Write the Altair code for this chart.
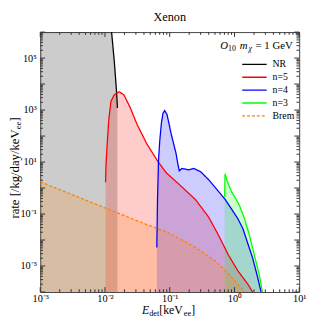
import altair as alt
import pandas as pd

# ---------------- data ----------------
SERIES = ["NR", "n=5", "n=4", "n=3", "Brem"]
COLORS = ["#000000", "#ff0000", "#0000ff", "#00ff00", "#ff8000"]
DASHES = [[1, 0], [1, 0], [1, 0], [1, 0], [3, 2]]

nr_x = [0.001, 0.0124, 0.01265, 0.0139, 0.01503, 0.01557]
nr_y = [1e9, 3e6, 1.0e6, 7.9e4, 5.9e3, 1.2e3]

n5_x = [0.0102, 0.01037, 0.01074, 0.0114, 0.01234, 0.01389, 0.01652, 0.01966,
        0.0247, 0.0312, 0.0442, 0.0659, 0.0885, 0.132, 0.251, 0.399, 0.565,
        0.80, 1.13, 1.60, 1.91, 2.0]
n5_y = [1.67, 7.7, 37.6, 379, 2143, 3828, 5090, 3828,
        1199, 285, 50.5, 10.4, 3.86, 1.58, 0.357, 0.0764, 0.0156,
        2.75e-3, 6.5e-4, 2.05e-4, 1e-4, 6e-5]

n4_x = [0.0632, 0.0648, 0.0671, 0.0702, 0.0744, 0.0788, 0.0835, 0.0908, 0.1054,
        0.1253, 0.133, 0.1406, 0.1544, 0.1774, 0.197, 0.234, 0.299, 0.399,
        0.534, 0.713, 0.90, 1.13, 1.346, 1.905, 2.24, 2.58, 2.7]
n4_y = [5.2e-3, 0.372, 11.9, 67, 319, 759, 957, 678, 120,
        21.2, 8.9, 4.6, 5.7, 5.3, 5.0, 5.7, 4.3, 2.1,
        0.885, 0.372, 0.157, 0.066, 0.0278, 2.07e-3, 4.35e-4, 1e-4, 5e-5]

n3_x = [0.705, 0.715, 0.773, 0.847, 0.918, 1.01, 1.2, 1.43, 1.70, 2.02, 2.40, 2.70, 2.8]
n3_y = [0.45, 3.54, 1.82, 1.05, 0.665, 0.46, 0.209, 0.066, 0.0156, 2.75e-3, 4.9e-4, 1e-4, 5e-5]

brem_x = [0.001, 0.01037, 0.0442, 0.0885, 0.251, 0.504, 0.695, 1.01, 1.43, 1.6]
brem_y = [1.73, 0.167, 0.0393, 0.0209, 5.2e-3, 1.56e-3, 7.5e-4, 2.75e-4, 1e-4, 5e-5]

X_DECADES = [1e-3, 1e-2, 1e-1, 1.0, 10.0]
Y_DECADES = [1e-4, 1e-3, 1e-2, 1e-1, 1.0, 10.0, 1e2, 1e3, 1e4, 1e5, 1e6]
X_LABELS = [1e-3, 1e-2, 1e-1, 1.0, 10.0]
Y_LABELS = [1e-3, 1e-1, 10.0, 1e3, 1e5]
MINOR_MULT = [2, 3, 4, 5, 6, 7, 8, 9]

rows = []
for name, xs, ys in [("NR", nr_x, nr_y), ("n=5", n5_x, n5_y), ("n=4", n4_x, n4_y),
                     ("n=3", n3_x, n3_y), ("Brem", brem_x, brem_y)]:
    for a, b in zip(xs, ys):
        rows.append({"series": name, "x": a, "y": b})
df = pd.DataFrame(rows)

x_minor = [m * d for d in X_DECADES[:-1] for m in MINOR_MULT]
y_minor = [m * d for d in Y_DECADES[:-1] for m in MINOR_MULT]

# ---------------- style ----------------
W, H = 265, 266
FONT = "Liberation Serif"
FRAME = "#444444"
TICK = "#333333"

xscale = alt.Scale(type="log", domain=[1e-3, 10], nice=False)
yscale = alt.Scale(type="log", domain=[1e-4, 1e6], nice=False)

x_label_expr = ("datum.value < 0.005 ? '10⁻³' : datum.value < 0.05 ? '10⁻²' : "
                "datum.value < 0.5 ? '10⁻¹' : datum.value < 5 ? '10⁰' : '10¹'")
y_label_expr = ("datum.value < 0.005 ? '10⁻³' : datum.value < 0.5 ? '10⁻¹' : "
                "datum.value < 50 ? '10¹' : datum.value < 5000 ? '10³' : '10⁵'")

xaxis = alt.Axis(values=X_LABELS, labelExpr=x_label_expr, ticks=False, domain=False,
                 grid=False, title=None, labelFont=FONT, labelFontSize=10.5,
                 labelColor="black", labelPadding=2, labelFlush=False)
yaxis = alt.Axis(values=Y_LABELS, labelExpr=y_label_expr, ticks=False, domain=False,
                 grid=False, title=None, labelFont=FONT, labelFontSize=10.5,
                 labelColor="black", labelPadding=4)

legend = alt.Legend(orient="none", legendX=205.7, legendY=27, title=None,
                    symbolType="M-2.5,0H2.5", symbolSize=100, symbolStrokeWidth=1.4,
                    symbolOffset=7.5, labelOffset=12.5, rowPadding=2.2, padding=0,
                    labelFont=FONT, labelFontSize=10, labelColor="black")

# fill scale listed in reverse order so its (hidden) legend stays separate
areas = alt.Chart(df).mark_area(fillOpacity=0.2, clip=True).encode(
    x=alt.X("x:Q", scale=xscale, axis=xaxis),
    y=alt.Y("y:Q", scale=yscale, axis=yaxis, stack=None),
    y2=alt.value(H),
    fill=alt.Fill("series:N", scale=alt.Scale(domain=SERIES[::-1], range=COLORS[::-1]),
                  legend=None),
)

lines = alt.Chart(df).mark_line(strokeWidth=1.3, clip=True).encode(
    x=alt.X("x:Q", scale=xscale, axis=xaxis),
    y=alt.Y("y:Q", scale=yscale, axis=yaxis),
    color=alt.Color("series:N", scale=alt.Scale(domain=SERIES, range=COLORS), legend=legend),
    strokeDash=alt.StrokeDash("series:N", scale=alt.Scale(domain=SERIES, range=DASHES),
                              legend=legend),
)


def xticks(vals, y0, y1):
    return alt.Chart(pd.DataFrame({"v": vals})).mark_rule(color=TICK, strokeWidth=1).encode(
        x=alt.X("v:Q", scale=xscale, axis=xaxis), y=alt.value(y0), y2=alt.value(y1))


def yticks(vals, x0, x1):
    return alt.Chart(pd.DataFrame({"v": vals})).mark_rule(color=TICK, strokeWidth=1).encode(
        y=alt.Y("v:Q", scale=yscale, axis=yaxis), x=alt.value(x0), x2=alt.value(x1))


ticks = [
    xticks(X_DECADES, H, H - 5), xticks(x_minor, H, H - 2.8),
    xticks(X_DECADES, 0, 5), xticks(x_minor, 0, 2.8),
    yticks(Y_DECADES, 0, 5), yticks(y_minor, 0, 2.8),
    yticks(Y_DECADES, W, W - 5), yticks(y_minor, W, W - 2.8),
]

one = pd.DataFrame({"k": [0]})


def txt(s, x, y, size=12, style="normal", align="left", angle=0):
    return alt.Chart(one).mark_text(text=s, font=FONT, fontSize=size, fontStyle=style,
                                    align=align, baseline="alphabetic", angle=angle,
                                    color="black").encode(x=alt.value(x), y=alt.value(y))


texts = [
    txt("Xenon", W / 2, -11.5, size=12.5, align="center"),
    txt("E", 104, 288, size=12, style="italic"),
    txt("det", 111.5, 290.5, size=8.5),
    txt(" [keV", 121.8, 288, size=12),
    txt("ee", 146.8, 290.5, size=8.5),
    txt("]", 154.4, 288, size=12),
    txt("rate [/kg/day/keV", -22, 190.8, size=13, angle=270),
    txt("ee", -19.4, 99.5, size=9, angle=270),
    txt("]", -22, 91.5, size=13, angle=270),
    txt("O", 192.2, 17.5, size=11, style="italic", align="right"),
    txt("10", 200.2, 19.8, size=8, align="right"),
    txt("m", 212.0, 17.5, size=11, style="italic", align="right"),
    txt("χ", 216.6, 19.8, size=8, style="italic", align="right"),
    txt("= 1 GeV", 258.3, 17.5, size=11, align="right"),
]

chart = alt.layer(areas, *ticks, lines, *texts).properties(
    width=W, height=H,
    padding={"left": 33, "top": 21, "right": 9, "bottom": 26},
    autosize=alt.AutoSizeParams(type="none"),
).configure_view(stroke=FRAME, strokeWidth=1)

chart.save("out.html", embed_options={"renderer": "svg", "actions": False})
